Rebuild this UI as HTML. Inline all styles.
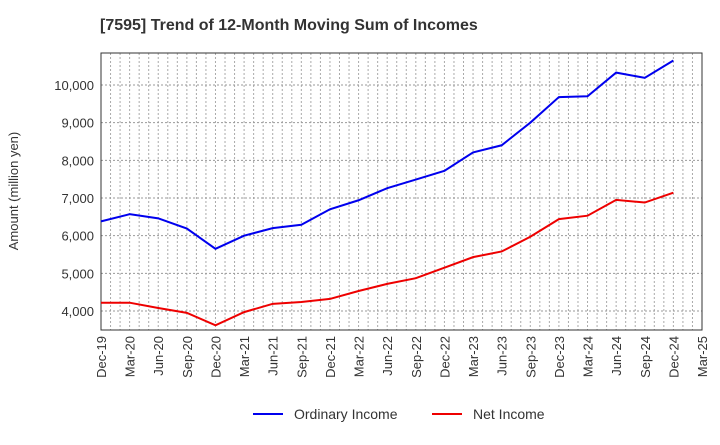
<!DOCTYPE html>
<html><head><meta charset="utf-8"><style>body{margin:0;background:#fff}svg{font-family:"Liberation Sans",sans-serif}</style></head>
<body>
<svg id="c" width="720" height="440"></svg>
<script>
const labels=["Dec-19","Mar-20","Jun-20","Sep-20","Dec-20","Mar-21","Jun-21","Sep-21","Dec-21","Mar-22","Jun-22","Sep-22","Dec-22","Mar-23","Jun-23","Sep-23","Dec-23","Mar-24","Jun-24","Sep-24","Dec-24","Mar-25"];
const ordinary=[6380,6570,6460,6190,5650,6000,6200,6290,6700,6940,7260,7490,7720,8210,8400,9000,9680,9700,10330,10190,10650];
const net=[4220,4220,4080,3950,3620,3970,4190,4240,4320,4530,4720,4870,5150,5430,5580,5970,6440,6530,6950,6880,7140];
const yTicks=[4000,5000,6000,7000,8000,9000,10000];
const L=101,R=702,T=53,B=330,ymin=3495,ymax=10850;
const x=i=>L+(R-L)*i/(labels.length-1);
const y=v=>B-(B-T)*(v-ymin)/(ymax-ymin);
const s=document.getElementById('c');const NS="http://www.w3.org/2000/svg";
function mk(t,a,p){const e=document.createElementNS(NS,t);for(const k in a)e.setAttribute(k,a[k]);(p||s).appendChild(e);return e;}
let e;
for(let m=1;m<(labels.length-1)*3;m++){const xx=L+(R-L)*m/((labels.length-1)*3);
e=mk('line',{x1:xx,x2:xx,y1:T,y2:B,stroke:'#aaa','stroke-dasharray':'2,2','stroke-width':1});
}
yTicks.forEach(v=>{e=mk('line',{x1:L,x2:R,y1:y(v),y2:y(v),stroke:'#999','stroke-dasharray':'2,2'});

e=mk('text',{x:L-7,y:y(v)+5,'text-anchor':'end','font-size':13,fill:'#333'});e.textContent=v.toLocaleString('en-US');
});
e=mk('rect',{x:L,y:T,width:R-L,height:B-T,fill:'none',stroke:'#333'});

labels.forEach((l,i)=>{e=mk('text',{transform:`translate(${x(i)+5},${B+6}) rotate(-90)`,'text-anchor':'end','font-size':13,fill:'#333'});e.textContent=l;
});
[[ordinary,'#0000ee','ordinary-income-line'],[net,'#ee0000','net-income-line']].forEach(([d,c,n])=>{
e=mk('polyline',{points:d.map((v,i)=>x(i)+','+y(v)).join(' '),fill:'none',stroke:c,'stroke-width':2});
});
e=mk('text',{x:100,y:30,'font-size':16,'font-weight':'bold',fill:'#333'});e.textContent='[7595]  Trend of 12-Month Moving Sum of Incomes';

e=mk('text',{transform:'translate(18,191) rotate(-90)','text-anchor':'middle','font-size':13,fill:'#333'});e.textContent='Amount (million yen)';

[[253,'#0000ee','Ordinary Income','legend-ordinary-income'],[432,'#ee0000','Net Income','legend-net-income']].forEach(([lx,c,t,n])=>{
const g=mk('g',{});
mk('line',{x1:lx,x2:lx+30,y1:414,y2:414,stroke:c,'stroke-width':2},g);
const tx=mk('text',{x:lx+41,y:419,'font-size':14,fill:'#333'},g);tx.textContent=t;});
</script>
</body></html>
